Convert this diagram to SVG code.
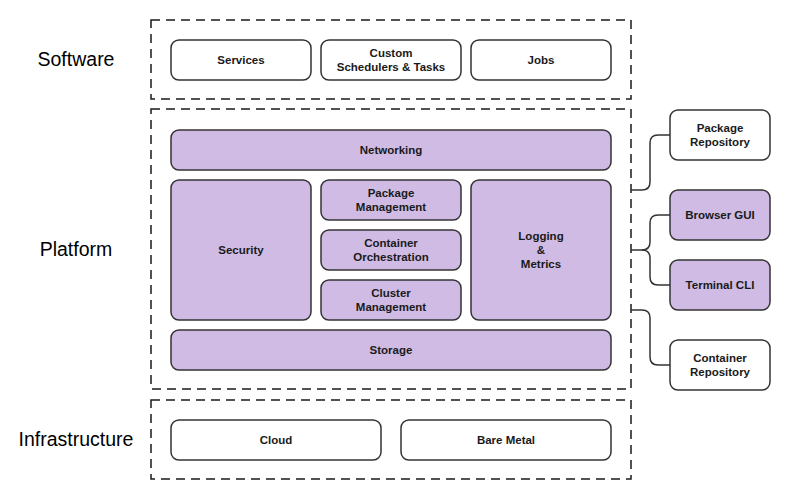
<svg xmlns="http://www.w3.org/2000/svg" width="796" height="500" viewBox="0 0 796 500">
<style>
.lane{fill:none;stroke:#1a1a1a;stroke-width:1.5;stroke-dasharray:9,6}
.w{fill:#ffffff;stroke:#333333;stroke-width:1.5}
.p{fill:#CFBBE4;stroke:#333333;stroke-width:1.5}
.t{font-family:"Liberation Sans",Arial,sans-serif;font-size:11.5px;font-weight:bold;fill:#1a1a1a;text-anchor:middle}
.lbl{font-family:"Liberation Sans",Arial,sans-serif;font-size:19.5px;fill:#000;text-anchor:middle}
.c{fill:none;stroke:#333333;stroke-width:1.5}
</style>
<rect width="796" height="500" fill="#ffffff"/>
<g id="lanes">
<rect class="lane" x="151" y="20" width="480" height="79"/>
<rect class="lane" x="151" y="109" width="480" height="280"/>
<rect class="lane" x="151" y="400" width="480" height="79"/>
<text class="lbl" x="76" y="66">Software</text>
<text class="lbl" x="76" y="256">Platform</text>
<text class="lbl" x="76" y="446">Infrastructure</text>
</g>
<g id="connectors">
<path class="c" d="M631,190 H642 Q650,190 650,182 V143 Q650,135 658,135 H670"/>
<path class="c" d="M631,250 H642 Q650,250 650,242 V223 Q650,215 658,215 H670"/>
<path class="c" d="M642,250 Q650,250 650,258 V277 Q650,285 658,285 H670"/>
<path class="c" d="M631,310 H642 Q650,310 650,318 V357 Q650,365 658,365 H670"/>
</g>
<g id="services"><rect class="w" x="171" y="40" width="140" height="40" rx="8"/><text class="t" x="241" y="64">Services</text></g>
<g id="custom"><rect class="w" x="321" y="40" width="140" height="40" rx="8"/><text class="t" x="391" y="57">Custom</text><text class="t" x="391" y="71">Schedulers &amp; Tasks</text></g>
<g id="jobs"><rect class="w" x="471" y="40" width="140" height="40" rx="8"/><text class="t" x="541" y="64">Jobs</text></g>
<g id="networking"><rect class="p" x="171" y="130" width="440" height="40" rx="8"/><text class="t" x="391" y="154">Networking</text></g>
<g id="security"><rect class="p" x="171" y="180" width="140" height="140" rx="8"/><text class="t" x="241" y="254">Security</text></g>
<g id="package-management"><rect class="p" x="321" y="180" width="140" height="40" rx="8"/><text class="t" x="391" y="197">Package</text><text class="t" x="391" y="211">Management</text></g>
<g id="container-orchestration"><rect class="p" x="321" y="230" width="140" height="40" rx="8"/><text class="t" x="391" y="247">Container</text><text class="t" x="391" y="261">Orchestration</text></g>
<g id="cluster-management"><rect class="p" x="321" y="280" width="140" height="40" rx="8"/><text class="t" x="391" y="297">Cluster</text><text class="t" x="391" y="311">Management</text></g>
<g id="logging"><rect class="p" x="471" y="180" width="140" height="140" rx="8"/><text class="t" x="541" y="240">Logging</text><text class="t" x="541" y="254">&amp;</text><text class="t" x="541" y="268">Metrics</text></g>
<g id="storage"><rect class="p" x="171" y="330" width="440" height="40" rx="8"/><text class="t" x="391" y="354">Storage</text></g>
<g id="cloud"><rect class="w" x="171" y="420" width="210" height="40" rx="8"/><text class="t" x="276" y="444">Cloud</text></g>
<g id="bare-metal"><rect class="w" x="401" y="420" width="210" height="40" rx="8"/><text class="t" x="506" y="444">Bare Metal</text></g>
<g id="package-repository"><rect class="w" x="670" y="110" width="100" height="50" rx="8"/><text class="t" x="720" y="132">Package</text><text class="t" x="720" y="146">Repository</text></g>
<g id="browser-gui"><rect class="p" x="670" y="190" width="100" height="50" rx="8"/><text class="t" x="720" y="219">Browser GUI</text></g>
<g id="terminal-cli"><rect class="p" x="670" y="260" width="100" height="50" rx="8"/><text class="t" x="720" y="289">Terminal CLI</text></g>
<g id="container-repository"><rect class="w" x="670" y="340" width="100" height="50" rx="8"/><text class="t" x="720" y="362">Container</text><text class="t" x="720" y="376">Repository</text></g>
</svg>
